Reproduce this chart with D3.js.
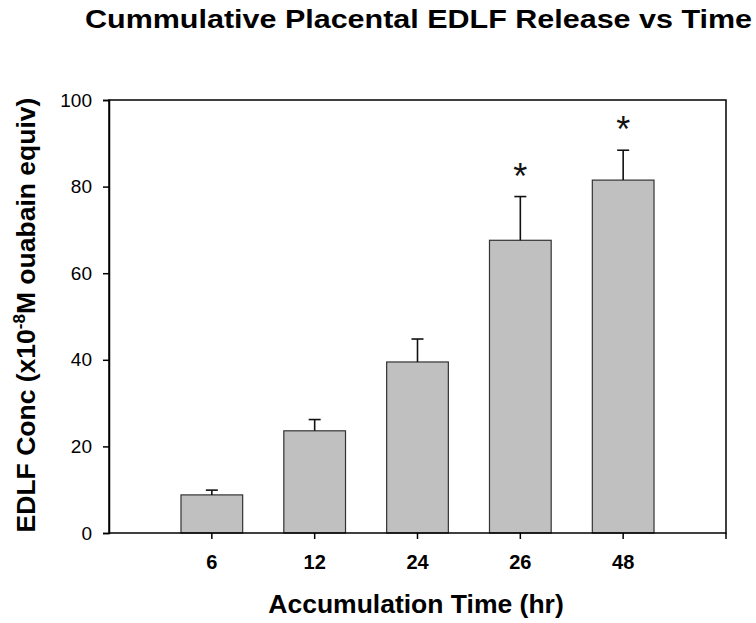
<!DOCTYPE html>
<html><head><meta charset="utf-8">
<script src="https://cdn.jsdelivr.net/npm/d3@7"></script>
<style>body{margin:0;background:#fff}svg{display:block}</style>
</head><body>
<svg id="c" width="756" height="623"></svg>
<script>
const categories = ["6", "12", "24", "26", "48"];
const values = [8.8, 23.6, 39.5, 67.6, 81.5];
const errors = [1.1, 2.6, 5.3, 10.1, 6.9];
const significant = [false, false, false, true, true];
const yTicks = [0, 20, 40, 60, 80, 100];

(function(){
const svg = d3.select("#c");
const pL = 109, pR = 726, pT = 100, pB = 533;
const x = d3.scaleBand().domain(categories).range([pL, pR]).paddingInner(0.4).paddingOuter(0.7);
const y = d3.scaleLinear().domain([0, 100]).range([pB, pT]);
const FF = "Liberation Sans, Arial, sans-serif";

// bars
svg.append("g").selectAll("rect").data(categories).join("rect")
  .attr("x", d => x(d)).attr("width", x.bandwidth())
  .attr("y", (d,i) => y(values[i])).attr("height", (d,i) => y(0) - y(values[i]))
  .attr("fill", "#c0c0c0").attr("stroke", "#333").attr("stroke-width", 1.2);

// error bars
const eb = svg.append("g").attr("stroke", "#111").attr("stroke-width", 1.6);
categories.forEach((c,i) => {
  const cx = x(c) + x.bandwidth()/2;
  eb.append("line").attr("x1", cx).attr("x2", cx).attr("y1", y(values[i])).attr("y2", y(values[i]+errors[i]));
  eb.append("line").attr("x1", cx-6).attr("x2", cx+6).attr("y1", y(values[i]+errors[i])).attr("y2", y(values[i]+errors[i]));
  if (significant[i]) {
    svg.append("text").attr("x", cx).attr("y", y(values[i]+errors[i]) - 8)
      .attr("text-anchor", "middle").attr("font-family", FF)
      .attr("font-size", 36).attr("fill", "#111").text("*");
  }
});

// frame
svg.append("rect").attr("x", pL).attr("y", pT).attr("width", pR-pL).attr("height", pB-pT)
  .attr("fill", "none").attr("stroke", "#000").attr("stroke-width", 1.5);

// y axis
const ya = svg.append("g").attr("transform", `translate(${pL},0)`)
  .call(d3.axisLeft(y).tickValues(yTicks).tickSize(6).tickPadding(11));
ya.select(".domain").attr("stroke-width", 1.5);
ya.selectAll("line").attr("stroke-width", 1.5);
ya.selectAll("text").attr("font-family", FF).attr("font-size", 19).attr("fill", "#000");

// x axis
const xa = svg.append("g").attr("transform", `translate(0,${pB})`)
  .call(d3.axisBottom(x).tickSize(6).tickPadding(16));
xa.select(".domain").remove();
xa.selectAll("text").attr("font-family", FF).attr("font-size", 20).attr("font-weight", "bold").attr("fill", "#000");
xa.selectAll("line").attr("stroke-width", 1.5);
svg.append("line").attr("x1", pR).attr("x2", pR).attr("y1", pB).attr("y2", pB+6).attr("stroke","#000").attr("stroke-width",1.5);

// title
svg.append("text").attr("x", 85).attr("y", 28)
  .attr("font-family", FF).attr("font-weight", "bold").attr("font-size", 25)
  .attr("textLength", 667).attr("lengthAdjust", "spacingAndGlyphs").attr("fill", "#000")
  .text("Cummulative Placental EDLF Release vs Time");

// x label
svg.append("text").attr("x", 416).attr("y", 613).attr("text-anchor", "middle")
  .attr("font-family", FF).attr("font-weight", "bold").attr("font-size", 26.5).attr("fill", "#000")
  .text("Accumulation Time (hr)");

// y label
const yl = svg.append("text").attr("transform", "translate(35,315) rotate(-90)").attr("text-anchor", "middle")
  .attr("font-family", FF).attr("font-weight", "bold").attr("font-size", 26.5).attr("fill", "#000");
yl.append("tspan").text("EDLF Conc (x10");
yl.append("tspan").attr("font-size", 17).attr("dy", -10).text("-8");
yl.append("tspan").attr("dy", 10).text("M ouabain equiv)");
})();
</script>
</body></html>
